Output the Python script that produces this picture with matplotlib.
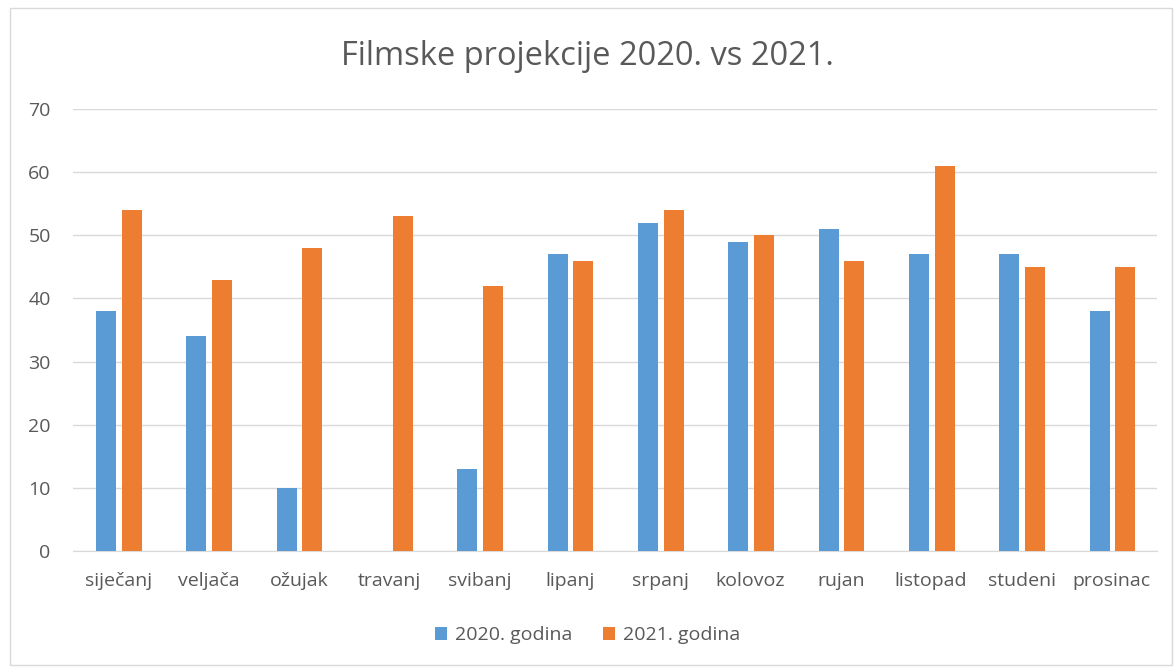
import matplotlib.pyplot as plt
import numpy as np

# Podaci
mjeseci = ["siječanj", "veljača", "ožujak", "travanj", "svibanj", "lipanj",
           "srpanj", "kolovoz", "rujan", "listopad", "studeni", "prosinac"]
god_2020 = [38, 34, 10, 0, 13, 47, 52, 49, 51, 47, 47, 38]
god_2021 = [54, 43, 48, 53, 42, 46, 54, 50, 46, 61, 45, 45]

plt.rcParams['font.family'] = ['Open Sans', 'DejaVu Sans']

fig = plt.figure(figsize=(11.75, 6.68), dpi=100)
ax = fig.add_axes([0.0621, 0.1751, 0.9226, 0.6617])

x = np.arange(len(mjeseci))
w = 0.22
ax.bar(x - 0.135, god_2020, w, color="#5B9BD5", label="2020. godina", zorder=3)
ax.bar(x + 0.150, god_2021, w, color="#ED7D31", label="2021. godina", zorder=3)

ax.set_xlim(-0.5, len(mjeseci) - 0.5)
ax.set_ylim(0, 70)
ax.set_yticks(range(0, 71, 10))
ax.set_xticks(x)
ax.set_xticklabels(mjeseci)
ax.grid(axis="y", color="#D9D9D9", linewidth=1, zorder=0)
for s in ["top", "right", "left"]:
    ax.spines[s].set_visible(False)
ax.spines["bottom"].set_color("#D9D9D9")
ax.tick_params(axis="both", length=0, labelsize=14, colors="#595959")
ax.tick_params(axis="x", pad=15)
ax.tick_params(axis="y", pad=16)

fig.text(0.5, 0.915, "Filmske projekcije 2020. vs 2021.", ha="center", va="center",
         fontsize=23.5, color="#595959")
fig.legend(loc="center", bbox_to_anchor=(0.5, 0.049), ncol=2, frameon=False,
           fontsize=14, labelcolor="#595959", handlelength=0.6, handleheight=0.6,
           columnspacing=1.6, handletextpad=0.4)

fig.patches.append(plt.Rectangle((0.0085, 0.004), 0.989, 0.984, transform=fig.transFigure,
                                 fill=False, edgecolor="#D9D9D9", linewidth=1))

fig.savefig("out.png", dpi=100)
